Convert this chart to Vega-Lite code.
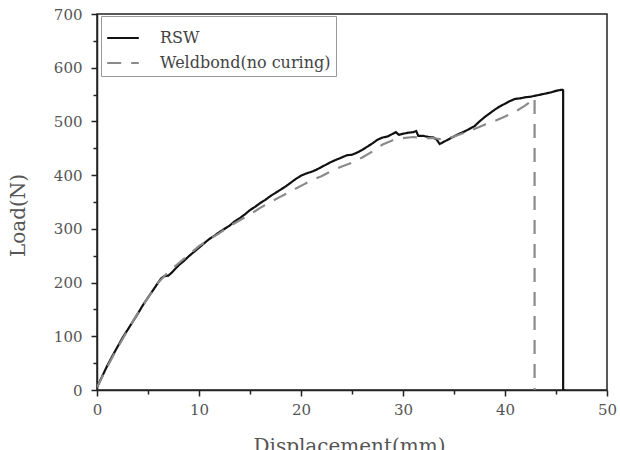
{
  "$schema": "https://vega.github.io/schema/vega-lite/v6.json",
  "width": 510,
  "height": 376,
  "autosize": {"type": "none"},
  "padding": {"left": 97, "top": 14, "right": 13, "bottom": 60},
  "background": "white",
  "config": {
    "font": "DejaVu Serif",
    "view": {"stroke": "#222", "strokeWidth": 1.5},
    "axis": {"grid": false, "domainColor": "#222", "domainWidth": 1.5, "tickColor": "#222", "tickWidth": 1.5, "labelColor": "#555", "titleColor": "#555", "labelFont": "DejaVu Serif", "titleFont": "DejaVu Serif", "labelFontSize": 15, "titleFontSize": 20, "titleFontWeight": "normal", "labelFlush": false, "labelOverlap": false},
    "legend": {"orient": "none", "legendX": 4, "legendY": 2, "strokeColor": "#999", "strokeWidth": 1, "fillColor": "white", "padding": 5, "rowPadding": 0, "symbolType": "stroke", "symbolSize": 1000, "symbolStrokeWidth": 2.2, "labelFont": "DejaVu Serif", "labelFontSize": 16, "labelColor": "#444", "labelOffset": 20, "labelLimit": 400, "cornerRadius": 0}
  },
  "data": {"values": [
    {"s":"RSW","i":0,"x":0,"y":5},{"s":"RSW","i":1,"x":0.5,"y":25},{"s":"RSW","i":2,"x":1,"y":45},{"s":"RSW","i":3,"x":1.5,"y":63},{"s":"RSW","i":4,"x":2,"y":80},{"s":"RSW","i":5,"x":2.5,"y":97},{"s":"RSW","i":6,"x":3,"y":112},{"s":"RSW","i":7,"x":3.5,"y":127},{"s":"RSW","i":8,"x":4,"y":142},{"s":"RSW","i":9,"x":4.5,"y":158},{"s":"RSW","i":10,"x":5,"y":172},{"s":"RSW","i":11,"x":5.5,"y":186},{"s":"RSW","i":12,"x":6,"y":200},{"s":"RSW","i":13,"x":6.3,"y":208},{"s":"RSW","i":14,"x":6.6,"y":212},{"s":"RSW","i":15,"x":7,"y":213},{"s":"RSW","i":16,"x":7.3,"y":218},{"s":"RSW","i":17,"x":7.7,"y":226},{"s":"RSW","i":18,"x":8,"y":232},{"s":"RSW","i":19,"x":8.5,"y":240},{"s":"RSW","i":20,"x":9,"y":249},{"s":"RSW","i":21,"x":9.5,"y":257},{"s":"RSW","i":22,"x":10,"y":265},{"s":"RSW","i":23,"x":10.5,"y":273},{"s":"RSW","i":24,"x":11,"y":281},{"s":"RSW","i":25,"x":11.5,"y":287},{"s":"RSW","i":26,"x":12,"y":294},{"s":"RSW","i":27,"x":12.5,"y":300},{"s":"RSW","i":28,"x":13,"y":306},{"s":"RSW","i":29,"x":13.5,"y":314},{"s":"RSW","i":30,"x":14,"y":320},{"s":"RSW","i":31,"x":14.5,"y":327},{"s":"RSW","i":32,"x":15,"y":335},{"s":"RSW","i":33,"x":15.5,"y":341},{"s":"RSW","i":34,"x":16,"y":348},{"s":"RSW","i":35,"x":16.5,"y":354},{"s":"RSW","i":36,"x":17,"y":361},{"s":"RSW","i":37,"x":17.5,"y":367},{"s":"RSW","i":38,"x":18,"y":373},{"s":"RSW","i":39,"x":18.5,"y":379},{"s":"RSW","i":40,"x":19,"y":386},{"s":"RSW","i":41,"x":19.5,"y":393},{"s":"RSW","i":42,"x":20,"y":399},{"s":"RSW","i":43,"x":20.5,"y":403},{"s":"RSW","i":44,"x":21,"y":406},{"s":"RSW","i":45,"x":21.5,"y":410},{"s":"RSW","i":46,"x":22,"y":415},{"s":"RSW","i":47,"x":22.5,"y":420},{"s":"RSW","i":48,"x":23,"y":425},{"s":"RSW","i":49,"x":23.5,"y":429},{"s":"RSW","i":50,"x":24,"y":433},{"s":"RSW","i":51,"x":24.5,"y":437},{"s":"RSW","i":52,"x":25,"y":438},{"s":"RSW","i":53,"x":25.5,"y":442},{"s":"RSW","i":54,"x":26,"y":447},{"s":"RSW","i":55,"x":26.5,"y":453},{"s":"RSW","i":56,"x":27,"y":459},{"s":"RSW","i":57,"x":27.5,"y":466},{"s":"RSW","i":58,"x":28,"y":470},{"s":"RSW","i":59,"x":28.5,"y":472},{"s":"RSW","i":60,"x":29,"y":477},{"s":"RSW","i":61,"x":29.3,"y":480},{"s":"RSW","i":62,"x":29.6,"y":475},{"s":"RSW","i":63,"x":30,"y":477},{"s":"RSW","i":64,"x":30.5,"y":479},{"s":"RSW","i":65,"x":31,"y":480},{"s":"RSW","i":66,"x":31.3,"y":482},{"s":"RSW","i":67,"x":31.5,"y":473},{"s":"RSW","i":68,"x":32,"y":473},{"s":"RSW","i":69,"x":32.5,"y":471},{"s":"RSW","i":70,"x":33,"y":470},{"s":"RSW","i":71,"x":33.3,"y":466},{"s":"RSW","i":72,"x":33.6,"y":458},{"s":"RSW","i":73,"x":34,"y":462},{"s":"RSW","i":74,"x":34.5,"y":467},{"s":"RSW","i":75,"x":35,"y":472},{"s":"RSW","i":76,"x":35.5,"y":477},{"s":"RSW","i":77,"x":36,"y":481},{"s":"RSW","i":78,"x":36.5,"y":486},{"s":"RSW","i":79,"x":37,"y":491},{"s":"RSW","i":80,"x":37.5,"y":500},{"s":"RSW","i":81,"x":38,"y":508},{"s":"RSW","i":82,"x":38.5,"y":515},{"s":"RSW","i":83,"x":39,"y":522},{"s":"RSW","i":84,"x":39.5,"y":528},{"s":"RSW","i":85,"x":40,"y":533},{"s":"RSW","i":86,"x":40.5,"y":538},{"s":"RSW","i":87,"x":41,"y":542},{"s":"RSW","i":88,"x":41.5,"y":543},{"s":"RSW","i":89,"x":42,"y":545},{"s":"RSW","i":90,"x":42.5,"y":546},{"s":"RSW","i":91,"x":43,"y":548},{"s":"RSW","i":92,"x":43.5,"y":550},{"s":"RSW","i":93,"x":44,"y":552},{"s":"RSW","i":94,"x":44.5,"y":554},{"s":"RSW","i":95,"x":45,"y":557},{"s":"RSW","i":96,"x":45.3,"y":558},{"s":"RSW","i":97,"x":45.6,"y":559},{"s":"RSW","i":98,"x":45.7,"y":558},{"s":"RSW","i":99,"x":45.7,"y":0},{"s":"RSW","i":100,"x":45.9,"y":0},
    {"s":"Weldbond(no curing)","i":0,"x":0,"y":5},{"s":"Weldbond(no curing)","i":1,"x":1,"y":43},{"s":"Weldbond(no curing)","i":2,"x":2,"y":78},{"s":"Weldbond(no curing)","i":3,"x":3,"y":111},{"s":"Weldbond(no curing)","i":4,"x":4,"y":143},{"s":"Weldbond(no curing)","i":5,"x":5,"y":172},{"s":"Weldbond(no curing)","i":6,"x":6,"y":200},{"s":"Weldbond(no curing)","i":7,"x":7,"y":220},{"s":"Weldbond(no curing)","i":8,"x":8,"y":236},{"s":"Weldbond(no curing)","i":9,"x":9,"y":252},{"s":"Weldbond(no curing)","i":10,"x":10,"y":268},{"s":"Weldbond(no curing)","i":11,"x":11,"y":280},{"s":"Weldbond(no curing)","i":12,"x":12,"y":292},{"s":"Weldbond(no curing)","i":13,"x":13,"y":305},{"s":"Weldbond(no curing)","i":14,"x":14,"y":316},{"s":"Weldbond(no curing)","i":15,"x":15,"y":327},{"s":"Weldbond(no curing)","i":16,"x":16,"y":339},{"s":"Weldbond(no curing)","i":17,"x":17,"y":350},{"s":"Weldbond(no curing)","i":18,"x":18,"y":360},{"s":"Weldbond(no curing)","i":19,"x":19,"y":370},{"s":"Weldbond(no curing)","i":20,"x":20,"y":380},{"s":"Weldbond(no curing)","i":21,"x":21,"y":390},{"s":"Weldbond(no curing)","i":22,"x":22,"y":398},{"s":"Weldbond(no curing)","i":23,"x":23,"y":408},{"s":"Weldbond(no curing)","i":24,"x":24,"y":416},{"s":"Weldbond(no curing)","i":25,"x":25,"y":423},{"s":"Weldbond(no curing)","i":26,"x":26,"y":433},{"s":"Weldbond(no curing)","i":27,"x":27,"y":444},{"s":"Weldbond(no curing)","i":28,"x":28,"y":457},{"s":"Weldbond(no curing)","i":29,"x":29,"y":465},{"s":"Weldbond(no curing)","i":30,"x":30,"y":469},{"s":"Weldbond(no curing)","i":31,"x":31,"y":471},{"s":"Weldbond(no curing)","i":32,"x":31.5,"y":470},{"s":"Weldbond(no curing)","i":33,"x":32,"y":469},{"s":"Weldbond(no curing)","i":34,"x":33,"y":469},{"s":"Weldbond(no curing)","i":35,"x":34,"y":466},{"s":"Weldbond(no curing)","i":36,"x":35,"y":472},{"s":"Weldbond(no curing)","i":37,"x":36,"y":479},{"s":"Weldbond(no curing)","i":38,"x":37,"y":486},{"s":"Weldbond(no curing)","i":39,"x":38,"y":494},{"s":"Weldbond(no curing)","i":40,"x":39,"y":501},{"s":"Weldbond(no curing)","i":41,"x":40,"y":509},{"s":"Weldbond(no curing)","i":42,"x":41,"y":518},{"s":"Weldbond(no curing)","i":43,"x":42,"y":530},{"s":"Weldbond(no curing)","i":44,"x":42.6,"y":538},{"s":"Weldbond(no curing)","i":45,"x":42.9,"y":544},{"s":"Weldbond(no curing)","i":46,"x":42.9,"y":0}
  ]},
  "mark": {"type": "line", "strokeWidth": 2.2, "clip": true},
  "encoding": {
    "x": {"field": "x", "type": "quantitative", "scale": {"domain": [0, 50], "nice": false, "zero": false},
      "axis": {"title": "Displacement(mm)", "values": [0,5,10,15,20,25,30,35,40,45,50], "labelExpr": "datum.value % 10 === 0 ? datum.label : ''", "tickSize": {"condition": {"test": "datum.value % 10 === 0", "value": 6}, "value": 4}, "labelPadding": 6, "titleX": 252, "titleY": 62, "titleBaseline": "alphabetic", "titleAnchor": "middle"}},
    "y": {"field": "y", "type": "quantitative", "scale": {"domain": [0, 700], "nice": false},
      "axis": {"title": "Load(N)", "values": [0,50,100,150,200,250,300,350,400,450,500,550,600,650,700], "labelExpr": "datum.value % 100 === 0 ? datum.label : ''", "tickSize": {"condition": {"test": "datum.value % 100 === 0", "value": 6}, "value": 4}, "labelPadding": 9, "titleX": -73, "titleY": 201, "titleBaseline": "alphabetic", "titleAngle": -90, "titleAnchor": "middle"}},
    "color": {"field": "s", "type": "nominal", "scale": {"domain": ["RSW", "Weldbond(no curing)"], "range": ["#111111", "#8a8a8a"]}, "legend": {"title": null}},
    "strokeDash": {"field": "s", "type": "nominal", "scale": {"domain": ["RSW", "Weldbond(no curing)"], "range": [[1, 0], [14, 10]]}, "legend": {"title": null}},
    "order": {"field": "i", "type": "quantitative"}
  }
}
